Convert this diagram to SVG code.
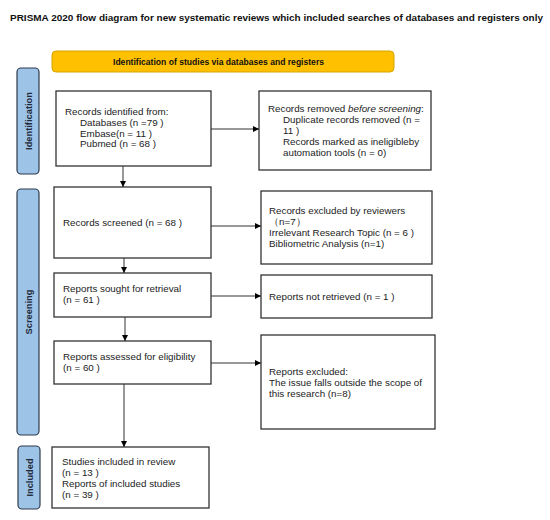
<svg xmlns="http://www.w3.org/2000/svg" width="550" height="520" viewBox="0 0 550 520">
<defs>
<marker id="ah" viewBox="0 0 10 10" refX="10" refY="5" markerWidth="6" markerHeight="6" markerUnits="userSpaceOnUse" orient="auto">
<path d="M0,0 L10,5 L0,10 z" fill="#000"/>
</marker>
<style>
.box{fill:#fff;stroke:#333;stroke-width:1.3}
.side{fill:#9DC3E6;stroke:#2E3B4E;stroke-width:1.2}
.t{font-family:"Liberation Sans",Arial,sans-serif;font-size:9.8px;fill:#222}
.sl{font-family:"Liberation Sans",Arial,sans-serif;font-size:9.3px;font-weight:bold;fill:#1F2A3A;text-anchor:middle}
.c{fill:none;stroke:#333;stroke-width:1;marker-end:url(#ah)}
</style>
</defs>
<rect width="550" height="520" fill="#fff"/>
<text x="10" y="21" font-family="Liberation Sans,Arial,sans-serif" font-size="9.6" font-weight="bold" fill="#111" textLength="533" lengthAdjust="spacingAndGlyphs">PRISMA 2020 flow diagram for new systematic reviews which included searches of databases and registers only</text>

<g id="header">
<rect x="52" y="51" width="342" height="21" rx="4" fill="#FFC000" stroke="#D9A300" stroke-width="1"/>
<text x="218.5" y="65" font-family="Liberation Sans,Arial,sans-serif" font-size="9" font-weight="bold" fill="#111" text-anchor="middle" textLength="211" lengthAdjust="spacingAndGlyphs">Identification of studies via databases and registers</text>
</g>

<g id="side-identification">
<rect class="side" x="17" y="68" width="22" height="106" rx="4"/>
<text class="sl" transform="translate(31.5,121) rotate(-90)">Identification</text>
</g>
<g id="side-screening">
<rect class="side" x="17" y="189" width="22" height="246" rx="4"/>
<text class="sl" transform="translate(31.5,312) rotate(-90)">Screening</text>
</g>
<g id="side-included">
<rect class="side" x="18" y="446" width="22" height="63" rx="4"/>
<text class="sl" transform="translate(32.5,477.5) rotate(-90)">Included</text>
</g>

<g id="n-identified">
<rect class="box" x="56" y="91" width="155" height="75"/>
<text class="t" x="65" y="115">Records identified from:</text>
<text class="t" x="80" y="126">Databases (n =79 )</text>
<text class="t" x="80" y="136.5">Embase(n = 11 )</text>
<text class="t" x="80" y="147">Pubmed (n = 68 )</text>
</g>
<g id="n-removed">
<rect class="box" x="259" y="91" width="172" height="79"/>
<text class="t" x="268" y="112">Records removed <tspan font-style="italic">before screening</tspan>:</text>
<text class="t" x="283" y="123">Duplicate records removed  (n =</text>
<text class="t" x="283" y="134">11 )</text>
<text class="t" x="283" y="145">Records marked as ineligibleby</text>
<text class="t" x="283" y="155.5">automation tools (n = 0)</text>
</g>
<g id="n-screened">
<rect class="box" x="54" y="187" width="157" height="71"/>
<text class="t" x="63" y="226">Records screened (n = 68 )</text>
</g>
<g id="n-excluded-reviewers">
<rect class="box" x="261" y="191" width="171" height="73"/>
<text class="t" x="269" y="214">Records excluded by reviewers</text>
<text class="t" x="269" y="225">（n=7）</text>
<text class="t" x="269" y="236">Irrelevant Research Topic (n = 6 )</text>
<text class="t" x="269" y="247">Bibliometric Analysis (n=1)</text>
</g>
<g id="n-sought">
<rect class="box" x="54" y="273" width="157" height="44"/>
<text class="t" x="63" y="292">Reports sought for retrieval</text>
<text class="t" x="63" y="303">(n = 61 )</text>
</g>
<g id="n-not-retrieved">
<rect class="box" x="261" y="275" width="171" height="43"/>
<text class="t" x="269" y="300">Reports not retrieved (n = 1 )</text>
</g>
<g id="n-assessed">
<rect class="box" x="54" y="341" width="157" height="43"/>
<text class="t" x="63" y="360">Reports assessed for eligibility</text>
<text class="t" x="63" y="371">(n = 60 )</text>
</g>
<g id="n-reports-excluded">
<rect class="box" x="261" y="335" width="174" height="94"/>
<text class="t" x="269" y="375">Reports excluded:</text>
<text class="t" x="269" y="386">The issue falls outside the scope of</text>
<text class="t" x="269" y="396.5">this research (n=8)</text>
</g>
<g id="n-included">
<rect class="box" x="52" y="447" width="157" height="61"/>
<text class="t" x="62" y="465">Studies included in review</text>
<text class="t" x="62" y="476">(n = 13 )</text>
<text class="t" x="62" y="487">Reports of included studies</text>
<text class="t" x="62" y="497.5">(n = 39 )</text>
</g>

<g id="connectors">
<line class="c" x1="211" y1="129" x2="259" y2="129"/>
<line class="c" x1="123" y1="166" x2="123" y2="187"/>
<line class="c" x1="211" y1="226" x2="261" y2="226"/>
<line class="c" x1="124" y1="258" x2="124" y2="273"/>
<line class="c" x1="211" y1="296" x2="261" y2="296"/>
<line class="c" x1="125" y1="317" x2="125" y2="341"/>
<line class="c" x1="211" y1="363" x2="261" y2="363"/>
<line class="c" x1="124" y1="384" x2="124" y2="447"/>
</g>
</svg>
